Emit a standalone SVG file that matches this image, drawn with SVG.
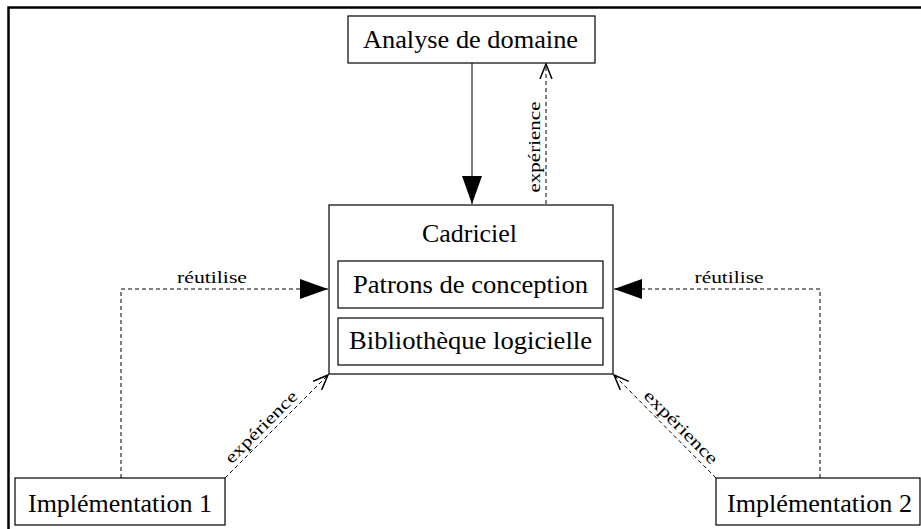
<svg xmlns="http://www.w3.org/2000/svg" width="921" height="529" viewBox="0 0 921 529">
<style>
.box{fill:#fff;stroke:#000;stroke-width:1.2}
.t{font-family:"Liberation Serif","Times New Roman",serif;font-size:25px;fill:#000;text-anchor:middle}
.l{font-family:"Liberation Serif","Times New Roman",serif;font-size:17px;fill:#000;text-anchor:middle}
.solid{stroke:#555;stroke-width:1.5;fill:none}
.dash{stroke:#000;stroke-width:1;stroke-dasharray:4,3;fill:none}
</style>
<defs>
<marker id="fill" markerWidth="28" markerHeight="20" refX="28" refY="10" orient="auto" markerUnits="userSpaceOnUse">
<path d="M0,0 L28,10 L0,20 Z" fill="#000"/>
</marker>
<marker id="open" markerWidth="16" markerHeight="14" refX="15" refY="7" orient="auto" markerUnits="userSpaceOnUse">
<path d="M0,1 L15,7 L0,13" fill="none" stroke="#000" stroke-width="1.5"/>
</marker>
</defs>
<path d="M8.5,529 V7.5 H921" fill="none" stroke="#000" stroke-width="2.5"/>
<g id="connectors">
<line class="solid" x1="472" y1="63" x2="472" y2="204" marker-end="url(#fill)"/>
<line class="dash" x1="546" y1="204" x2="546" y2="64" marker-end="url(#open)"/>
<text class="l" transform="translate(540,147) rotate(-90)" textLength="91" lengthAdjust="spacingAndGlyphs">expérience</text>
<polyline class="dash" points="121,478 121,289 328,289" marker-end="url(#fill)"/>
<text class="l" x="212" y="283" textLength="70" lengthAdjust="spacingAndGlyphs">réutilise</text>
<polyline class="dash" points="820,478 820,289 614,289" marker-end="url(#fill)"/>
<text class="l" x="729" y="283" textLength="69" lengthAdjust="spacingAndGlyphs">réutilise</text>
<line class="dash" x1="225" y1="478" x2="328" y2="375" marker-end="url(#open)"/>
<text class="l" transform="translate(265,431) rotate(-45)" textLength="95" lengthAdjust="spacingAndGlyphs">expérience</text>
<line class="dash" x1="716" y1="478" x2="614" y2="375" marker-end="url(#open)"/>
<text class="l" transform="translate(677,431) rotate(45)" textLength="97" lengthAdjust="spacingAndGlyphs">expérience</text>
</g>
<g id="analyse">
<rect class="box" x="348" y="16" width="247" height="47"/>
<text class="t" x="470.5" y="48" textLength="215" lengthAdjust="spacingAndGlyphs">Analyse de domaine</text>
</g>
<g id="cadriciel">
<rect class="box" x="329" y="205" width="284" height="169"/>
<text class="t" x="469.5" y="242" textLength="95" lengthAdjust="spacingAndGlyphs">Cadriciel</text>
</g>
<g id="patrons">
<rect class="box" x="338" y="261" width="265" height="47"/>
<text class="t" x="470.5" y="293" textLength="235" lengthAdjust="spacingAndGlyphs">Patrons de conception</text>
</g>
<g id="biblio">
<rect class="box" x="338" y="318" width="265" height="47"/>
<text class="t" x="470.5" y="349" textLength="243" lengthAdjust="spacingAndGlyphs">Bibliothèque logicielle</text>
</g>
<g id="impl1">
<rect class="box" x="15" y="478" width="210" height="47"/>
<text class="t" x="120" y="512" textLength="184" lengthAdjust="spacingAndGlyphs">Implémentation 1</text>
</g>
<g id="impl2">
<rect class="box" x="716" y="478" width="204" height="47"/>
<text class="t" x="819.5" y="512" textLength="185" lengthAdjust="spacingAndGlyphs">Implémentation 2</text>
</g>
</svg>
